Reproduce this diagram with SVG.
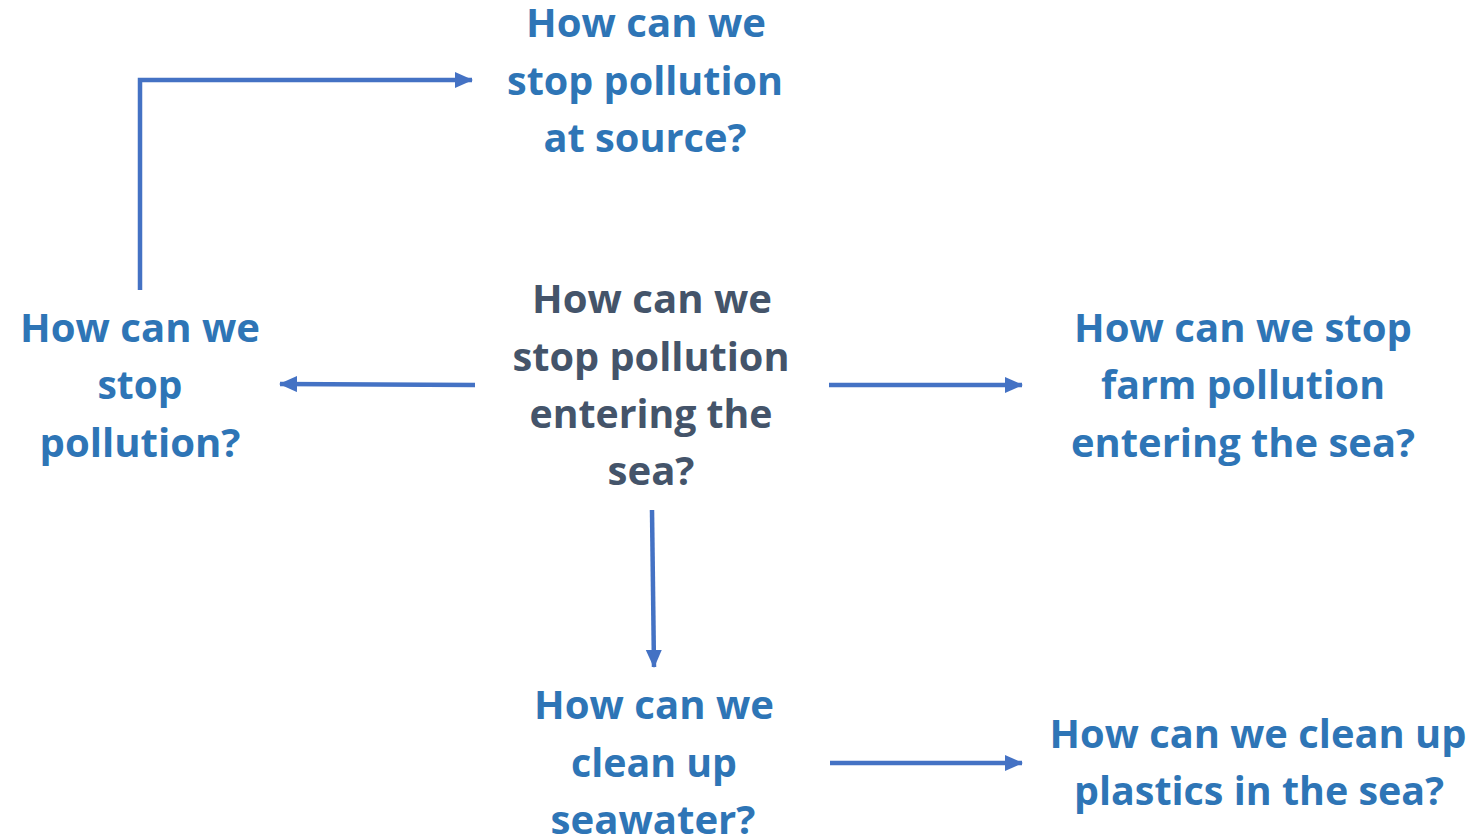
<svg xmlns="http://www.w3.org/2000/svg" width="1476" height="840" viewBox="0 0 1476 840">
<defs>
<marker id="ah" markerUnits="userSpaceOnUse" markerWidth="20" markerHeight="18" refX="17" refY="8" orient="auto">
<path d="M0,0 L18,8 L0,16 Z" fill="#4472C4"/>
</marker>
<style>
text{font-family:"Open Sans","Liberation Sans",sans-serif;font-weight:700;font-size:39px;text-anchor:middle}
.b{fill:#2E75B6}
.c{fill:#44546A}
.ln{fill:none;stroke:#4472C4;stroke-width:4.5;marker-end:url(#ah)}
</style>
</defs>
<rect width="1476" height="840" fill="#fff"/>
<g id="connectors">
<polyline class="ln" points="140,290 140,80 472,80"/>
<line class="ln" x1="475" y1="385" x2="280" y2="384"/>
<line class="ln" x1="829" y1="385" x2="1022" y2="385"/>
<line class="ln" x1="652" y1="510" x2="654" y2="667"/>
<line class="ln" x1="830" y1="763" x2="1022" y2="763"/>
</g>
<g id="n-source" class="b">
<text x="646" y="37" textLength="240" lengthAdjust="spacingAndGlyphs">How can we</text>
<text x="645" y="95" textLength="276" lengthAdjust="spacingAndGlyphs">stop pollution</text>
<text x="645" y="152" textLength="203" lengthAdjust="spacingAndGlyphs">at source?</text>
</g>
<g id="n-center" class="c">
<text x="652" y="313" textLength="240" lengthAdjust="spacingAndGlyphs">How can we</text>
<text x="651" y="371" textLength="277" lengthAdjust="spacingAndGlyphs">stop pollution</text>
<text x="651" y="428" textLength="243" lengthAdjust="spacingAndGlyphs">entering the</text>
<text x="651" y="485" textLength="87" lengthAdjust="spacingAndGlyphs">sea?</text>
</g>
<g id="n-left" class="b">
<text x="140" y="342" textLength="240" lengthAdjust="spacingAndGlyphs">How can we</text>
<text x="140" y="399" textLength="85" lengthAdjust="spacingAndGlyphs">stop</text>
<text x="140" y="457" textLength="201" lengthAdjust="spacingAndGlyphs">pollution?</text>
</g>
<g id="n-right" class="b">
<text x="1243" y="342" textLength="338" lengthAdjust="spacingAndGlyphs">How can we stop</text>
<text x="1243" y="399" textLength="284" lengthAdjust="spacingAndGlyphs">farm pollution</text>
<text x="1243" y="457" textLength="344" lengthAdjust="spacingAndGlyphs">entering the sea?</text>
</g>
<g id="n-bottom" class="b">
<text x="654" y="719" textLength="240" lengthAdjust="spacingAndGlyphs">How can we</text>
<text x="654" y="777" textLength="166" lengthAdjust="spacingAndGlyphs">clean up</text>
<text x="653" y="834" textLength="205" lengthAdjust="spacingAndGlyphs">seawater?</text>
</g>
<g id="n-plastics" class="b">
<text x="1258" y="748" textLength="417" lengthAdjust="spacingAndGlyphs">How can we clean up</text>
<text x="1259" y="805" textLength="370" lengthAdjust="spacingAndGlyphs">plastics in the sea?</text>
</g>
</svg>
